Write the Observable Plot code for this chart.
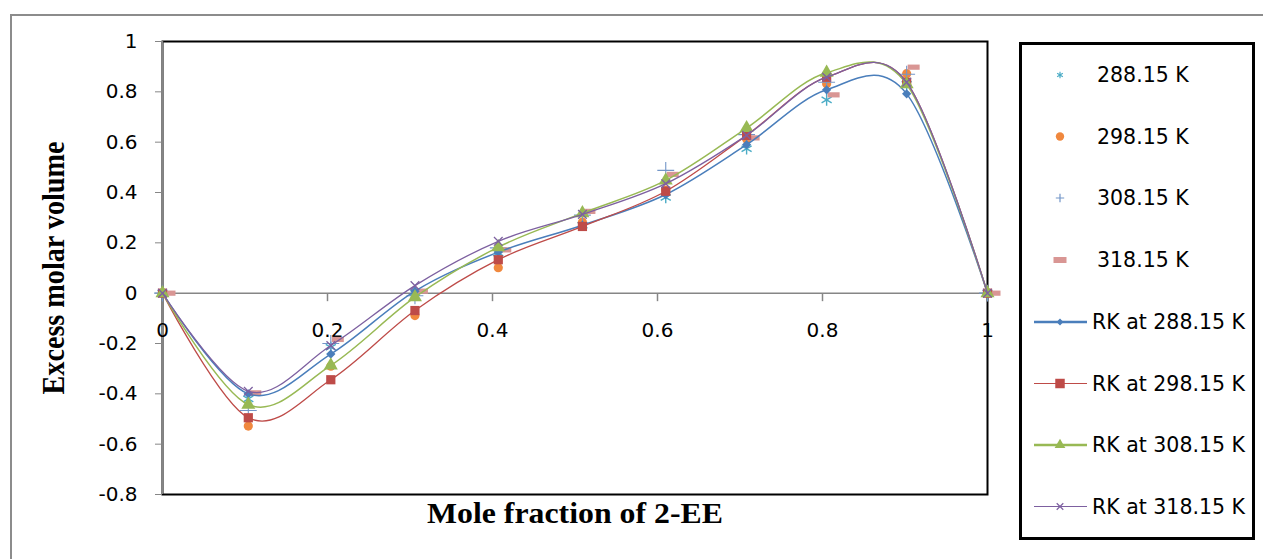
<!DOCTYPE html>
<html><head><meta charset="utf-8">
<script src="https://cdn.jsdelivr.net/npm/d3@7"></script>
<script src="https://cdn.jsdelivr.net/npm/@observablehq/plot@0.6"></script>
<style>
html,body{margin:0;padding:0;background:#fff;width:1263px;height:559px;overflow:hidden;}
#wrap{position:relative;width:1263px;height:559px;}
#chart{position:absolute;left:0;top:0;}
#border{position:absolute;left:10px;top:14px;width:1400px;height:700px;border-left:2px solid #8c8c8c;border-top:2px solid #8c8c8c;pointer-events:none;}
#legend{position:absolute;left:1019px;top:42px;}
</style></head>
<body><div id="wrap"><div id="chart"></div><div id="border"></div><svg id="legend" width="236" height="498"></svg></div>
<script>
// ---- data ----
const xFraction = [0, 0.104, 0.204, 0.306, 0.407, 0.509, 0.610, 0.708, 0.805, 0.902, 1.0];
const exp288 = [0, -0.420, -0.215, 0.002, 0.160, 0.270, 0.380, 0.574, 0.768, 0.830, 0];
const exp298 = [0, -0.528, -0.290, -0.089, 0.101, 0.282, 0.410, 0.613, 0.832, 0.872, 0];
const exp308 = [0, -0.466, -0.200, -0.010, 0.180, 0.310, 0.488, 0.630, 0.838, 0.870, 0];
const exp318 = [0, -0.396, -0.184, 0.008, 0.172, 0.325, 0.472, 0.617, 0.788, 0.898, 0];
const rk288 = [0, -0.400, -0.242, 0.008, 0.163, 0.270, 0.392, 0.590, 0.808, 0.792, 0];
const rk298 = [0, -0.495, -0.344, -0.069, 0.133, 0.265, 0.405, 0.627, 0.858, 0.838, 0];
const rk308 = [0, -0.443, -0.287, -0.016, 0.183, 0.318, 0.448, 0.656, 0.876, 0.830, 0];
const rk318 = [0, -0.390, -0.208, 0.030, 0.206, 0.313, 0.435, 0.627, 0.858, 0.838, 0];

const expNames = ["288.15 K", "298.15 K", "308.15 K", "318.15 K"];
const rkNames = ["RK at 288.15 K", "RK at 298.15 K", "RK at 308.15 K", "RK at 318.15 K"];

const xTicks = [0, 0.2, 0.4, 0.6, 0.8, 1];
const xTickLabels = ["0", "0.2", "0.4", "0.6", "0.8", "1"];
const yTicks = [-0.8, -0.6, -0.4, -0.2, 0, 0.2, 0.4, 0.6, 0.8, 1];
const yTickLabels = ["-0.8", "-0.6", "-0.4", "-0.2", "0", "0.2", "0.4", "0.6", "0.8", "1"];

const xTitle = "Mole fraction of 2-EE";
const yTitle = "Excess molar volume";

// ---- styles ----
const dashSymbol = {draw(ctx) { ctx.rect(-6, -2.6, 12, 5.2); }};
const tickSymbol = {draw(ctx) { ctx.moveTo(0, 0); ctx.lineTo(0, 8); }};

const expStyles = [
  {symbol: "asterisk", color: "#4BACC6", r: 5.5, stroked: true, sw: 1.4},
  {symbol: "circle", color: "#F0883E", r: 4.6, stroked: false},
  {symbol: "plus", color: "#7396C8", r: 5.5, stroked: true, sw: 1.1},
  {symbol: dashSymbol, color: "#D99694", r: 4, stroked: false, dx: 7}
];
const rkStyles = [
  {symbol: "diamond2", color: "#4A7EBB", r: 4.2, lw: 1.5},
  {symbol: "square", color: "#BE4B48", r: 5.2, lw: 1.3},
  {symbol: "triangle", color: "#98B954", r: 5.2, lw: 1.5},
  {symbol: "times", color: "#7D60A0", r: 4, lw: 1.3, stroked: true}
];

const rowsOf = ys => xFraction.map((x, i) => ({x, y: ys[i]}));
const expSeries = [exp288, exp298, exp308, exp318].map(rowsOf);
const rkSeries = [rk288, rk298, rk308, rk318].map(rowsOf);

const marks = [
  Plot.frame({stroke: "#000", strokeWidth: 2}),
  Plot.ruleX([0], {stroke: "#868686", strokeWidth: 1.5}),
  Plot.ruleY([0], {stroke: "#868686", strokeWidth: 1.5}),
  Plot.axisY(yTicks, {
    tickFormat: d => yTickLabels[yTicks.indexOf(d)],
    tickSize: 7, tickPadding: 18, stroke: "#868686", fill: "#000", label: null
  }),
  Plot.dot(xTicks, {x: d => d, y: () => 0, symbol: tickSymbol, fill: "none", stroke: "#868686", strokeWidth: 1.5}),
  Plot.text(xTicks, {x: d => d, y: () => 0, text: (d, i) => xTickLabels[i], dy: 37, fill: "#000"}),
  Plot.text([yTitle], {frameAnchor: "left", dx: -109, dy: 0, rotate: -90,
    textAnchor: "middle", lineAnchor: "middle", className: "ytitle",
    fontFamily: "Liberation Serif", fontWeight: "bold", fontSize: 32, fill: "#000"}),
  Plot.text([xTitle], {frameAnchor: "bottom", dy: 19.3, textAnchor: "middle", lineAnchor: "middle", className: "xtitle",
    fontFamily: "Liberation Serif", fontWeight: "bold", fontSize: 29, fill: "#000"})
];

expSeries.forEach((rows, k) => {
  const s = expStyles[k];
  marks.push(Plot.dot(rows, {
    x: "x", y: "y", symbol: s.symbol, r: s.r, dx: s.dx || 0,
    fill: s.stroked ? "none" : s.color, stroke: s.stroked ? s.color : "none", strokeWidth: s.sw || 1
  }));
});
rkSeries.forEach((rows, k) => {
  const s = rkStyles[k];
  marks.push(Plot.line(rows, {x: "x", y: "y", stroke: s.color, strokeWidth: s.lw, curve: "cardinal"}));
  marks.push(Plot.dot(rows, {
    x: "x", y: "y", symbol: s.symbol, r: s.r,
    fill: s.stroked ? "none" : s.color, stroke: s.stroked ? s.color : "none", strokeWidth: 1.3
  }));
});

const chart = Plot.plot({
  width: 1263, height: 559,
  marginLeft: 162, marginRight: 276, marginTop: 41, marginBottom: 65,
  x: {domain: [0, 1], axis: null},
  y: {domain: [-0.8, 1], axis: null},
  style: {fontFamily: "DejaVu Sans", fontSize: "20px", background: "transparent", color: "#000"},
  marks
});
document.getElementById("chart").appendChild(chart);

// the source chart is stretched a little horizontally: fit the titles to their measured lengths
d3.select(chart).selectAll("text").each(function () {
  const t = this.textContent;
  if (t === yTitle) d3.select(this).attr("textLength", 253).attr("lengthAdjust", "spacingAndGlyphs");
  if (t === xTitle) d3.select(this).attr("textLength", 296).attr("lengthAdjust", "spacingAndGlyphs");
});

// ---- legend ----
const lg = d3.select("#legend");
lg.append("rect").attr("x", 1.5).attr("y", 1.5).attr("width", 233).attr("height", 495)
  .attr("fill", "#fff").attr("stroke", "#000").attr("stroke-width", 3);
const legendY = [33, 94.5, 156, 218, 280, 341.5, 403, 464.5];
const d3sym = {asterisk: d3.symbolAsterisk, circle: d3.symbolCircle, plus: d3.symbolPlus,
  diamond2: d3.symbolDiamond2, square: d3.symbolSquare, triangle: d3.symbolTriangle, times: d3.symbolTimes};
const legendMarkers = [
  {sym: "asterisk", size: 30, color: "#4BACC6", stroked: true},
  {sym: "circle", size: 55, color: "#F0883E"},
  {sym: "plus", size: 25, color: "#7396C8", stroked: true},
  {sym: "dash", color: "#D99694"},
  {sym: "diamond2", size: 30, color: "#4A7EBB", lw: 2.5},
  {sym: "square", size: 90, color: "#BE4B48", lw: 1.2},
  {sym: "triangle", size: 50, color: "#98B954", lw: 2.5},
  {sym: "times", size: 30, color: "#7D60A0", lw: 1.2, stroked: true}
];
const legendNames = expNames.concat(rkNames);
legendNames.forEach((name, i) => {
  const y = legendY[i], m = legendMarkers[i];
  const g = lg.append("g");
  if (i >= 4) {
    g.append("line").attr("x1", 15).attr("x2", 68).attr("y1", y).attr("y2", y)
      .attr("stroke", m.color).attr("stroke-width", m.lw);
  }
  if (m.sym === "dash") {
    g.append("rect").attr("x", 41 - 6.5).attr("y", y - 3).attr("width", 13).attr("height", 6).attr("fill", m.color);
  } else {
    g.append("path").attr("transform", `translate(41,${y})`)
      .attr("d", d3.symbol(d3sym[m.sym], m.size)())
      .attr("fill", m.stroked ? "none" : m.color)
      .attr("stroke", m.stroked ? m.color : "none").attr("stroke-width", 1.2);
  }
  g.append("text").attr("x", i >= 4 ? 73 : 78).attr("y", y).attr("dy", "0.35em")
    .style("font-family", "DejaVu Sans").style("font-size", "20.5px").attr("fill", "#000")
    .text(name);
});
</script>
</body></html>
